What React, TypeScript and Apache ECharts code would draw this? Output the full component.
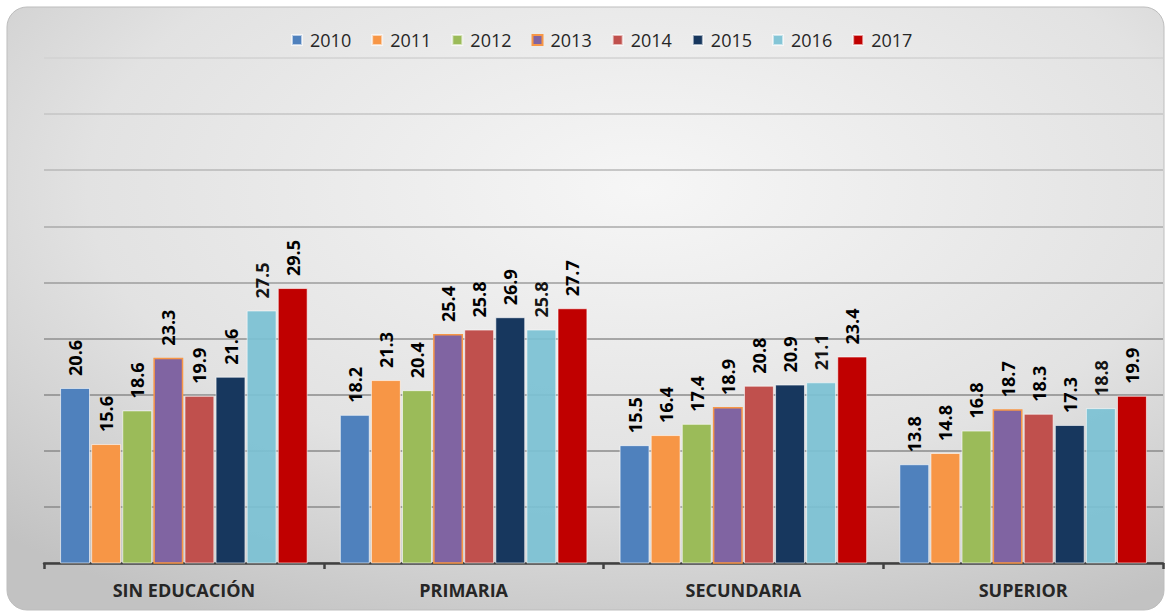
import React, { useEffect, useRef } from "react";
import * as echarts from "echarts";

const categories = ["SIN EDUCACIÓN", "PRIMARIA", "SECUNDARIA", "SUPERIOR"];
const years = ["2010", "2011", "2012", "2013", "2014", "2015", "2016", "2017"];
const v2010 = [20.6, 18.2, 15.5, 13.8];
const v2011 = [15.6, 21.3, 16.4, 14.8];
const v2012 = [18.6, 20.4, 17.4, 16.8];
const v2013 = [23.3, 25.4, 18.9, 18.7];
const v2014 = [19.9, 25.8, 20.8, 18.3];
const v2015 = [21.6, 26.9, 20.9, 17.3];
const v2016 = [27.5, 25.8, 21.1, 18.8];
const v2017 = [29.5, 27.7, 23.4, 19.9];
const seriesValues = [v2010, v2011, v2012, v2013, v2014, v2015, v2016, v2017];
const colors = ["#4F81BD", "#F79646", "#9BBB59", "#8064A2", "#C0504D", "#17375E", "#7BC1D4", "#C00000"];
const borderColors = [
  "rgba(255,255,255,0.6)",
  "rgba(255,255,255,0.6)",
  "rgba(255,255,255,0.6)",
  "#F79646",
  "rgba(255,255,255,0.6)",
  "rgba(255,255,255,0.6)",
  "rgba(255,255,255,0.6)",
  "rgba(255,255,255,0.6)",
];

export default function App() {
  const ref = useRef<HTMLDivElement>(null);
  useEffect(() => {
    if (!ref.current) return;
    const chart = echarts.init(ref.current, undefined, { renderer: "svg" });
    const font = "'Open Sans', 'DejaVu Sans', sans-serif";
    chart.setOption({
      animation: false,
      backgroundColor: "#ffffff",
      graphic: [
        {
          type: "rect",
          z: -10,
          silent: true,
          shape: { x: 7, y: 7, width: 1157, height: 603, r: 20 },
          style: {
            fill: {
              type: "radial",
              x: 0.55,
              y: 0.3,
              r: 0.8,
              colorStops: [
                { offset: 0, color: "#f6f6f6" },
                { offset: 0.6, color: "#e2e2e2" },
                { offset: 1, color: "#c2c2c2" },
              ],
            },
            stroke: "#bdbdbd",
            lineWidth: 1,
          },
        },
      ],
      legend: {
        top: 26,
        left: 286,
        itemWidth: 10,
        itemHeight: 10,
        itemGap: 20,
        icon: "rect",
        textStyle: { fontFamily: font, fontSize: 18, color: "#262626", padding: [0, 0, 0, 3] },
        data: years,
      },
      grid: { left: 44, right: 6, top: 58, bottom: 51, containLabel: false },
      xAxis: {
        type: "category",
        data: categories,
        axisLine: { show: true, lineStyle: { color: "#404040", width: 2.5 } },
        axisTick: { show: true, length: 6, lineStyle: { color: "#404040", width: 2.5 } },
        axisLabel: {
          fontFamily: font,
          fontSize: 18,
          fontWeight: "bold",
          color: "#262626",
          margin: 18,
        },
      },
      yAxis: {
        type: "value",
        min: 5,
        max: 50,
        interval: 5,
        axisLabel: { show: false },
        axisLine: { show: false },
        axisTick: { show: false },
        splitLine: {
          show: true,
          lineStyle: {
            width: 1.5,
            color: {
              type: "linear",
              x: 0,
              y: 58,
              x2: 0,
              y2: 360,
              global: true,
              colorStops: [
                { offset: 0, color: "#d2d2d2" },
                { offset: 1, color: "#8a8a8a" },
              ],
            },
          },
        },
      },
      series: years.map((y, i) => ({
        name: y,
        type: "bar",
        data: seriesValues[i],
        barGap: "4%",
        barCategoryGap: "11.5%",
        itemStyle: {
          color: colors[i],
          borderColor: borderColors[i],
          borderWidth: i === 3 ? 1.5 : 1,
          opacity: i === 6 ? 0.92 : 1,
        },
        label: {
          show: true,
          position: "top",
          rotate: 90,
          align: "left",
          verticalAlign: "middle",
          distance: 12,
          fontFamily: font,
          fontSize: 18,
          fontWeight: "bold",
          color: "#000000",
          formatter: (p: any) => p.value.toFixed(1),
        },
      })),
    });
    return () => chart.dispose();
  }, []);
  return (
    <div
      ref={ref}
      style={{ position: "absolute", left: 0, top: 0, width: 1169, height: 614 }}
    />
  );
}
